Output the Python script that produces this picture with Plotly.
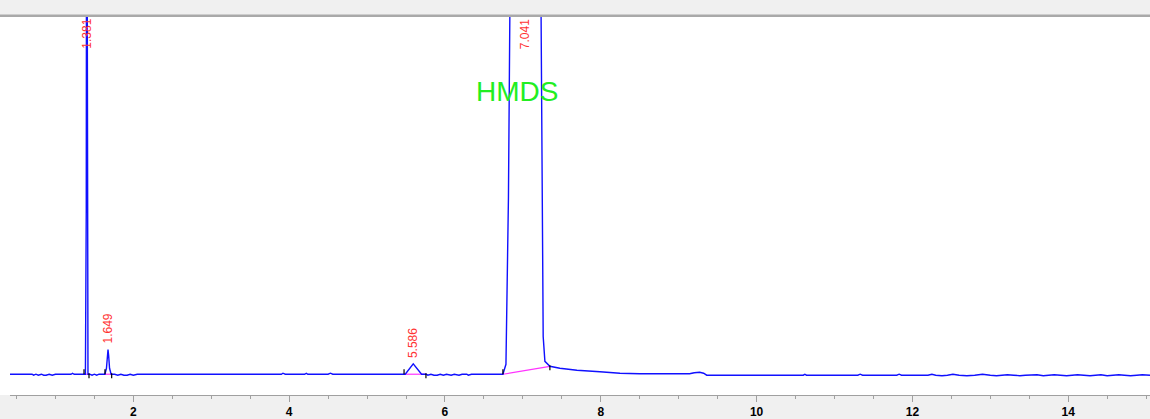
import plotly.graph_objects as go

# ---------------- data ----------------
# chromatogram trace (time in min, detector signal in arbitrary units)
time_min = [
    0.417, 0.70, 0.72, 0.75, 0.78, 0.82, 0.85, 0.88, 0.92, 0.96, 1.00, 1.20, 1.22, 1.24,
    1.385, 1.396, 1.401, 1.407, 1.418,
    1.44, 1.47, 1.50, 1.53, 1.56,
    1.635, 1.655, 1.667, 1.675, 1.683, 1.695, 1.715,
    1.76, 1.80, 1.84, 1.88, 1.92, 1.96, 2.00, 2.05,
    3.00, 3.90, 3.92, 3.95, 4.20, 4.22, 4.24, 4.50, 4.53, 4.56,
    5.49, 5.593, 5.70,
    5.76, 5.78, 5.82, 5.86, 5.90, 5.94, 5.98, 6.02, 6.08, 6.12, 6.18, 6.22, 6.28, 6.30, 6.34,
    6.744, 6.783, 6.815, 6.847, 6.87, 6.95, 7.041, 7.13, 7.21, 7.232, 7.245, 7.261, 7.283,
    7.305, 7.347, 7.475, 7.694, 7.989, 8.246, 8.50, 9.14, 9.20, 9.27, 9.32, 9.36,
    10.00, 10.60, 10.62, 10.64, 11.30, 11.33, 11.36, 11.80, 11.83, 11.86,
    12.20, 12.25, 12.30, 12.38, 12.45, 12.52, 12.60, 12.70, 12.80, 12.90, 13.00,
    13.08, 13.15, 13.22, 13.30, 13.38, 13.45, 13.52, 13.60, 13.68, 13.75, 13.82,
    13.90, 13.98, 14.05, 14.12, 14.20, 14.28, 14.35, 14.42, 14.50, 14.58, 14.65,
    14.72, 14.80, 14.88, 14.95, 15.05,
]
signal = [
    0, 0, -1, 0, -1, 0, -1, -1, 0, -1, 0, 0, 1, 0,
    0, 168, 700, 168, 0,
    0, -1, 0, -1, 0,
    0, 6, 19, 25, 19, 6, 0,
    0, -1, 0, -1, -1, 0, -1, 0,
    0, 0, 1, 0, 0, 1, 0, 0, 1, 0,
    0, 10.5, 0,
    0, -1, 0, -1, -1, 0, -1, 0, -1, 0, -1, 0, 0, -1, 0,
    0, 10, 178, 361, 650, 2000, 2500, 2000, 650, 361, 178, 38, 13,
    11, 8, 6, 4, 2.5, 1, 0.5, 0.5, 1.5, 2, 1, -1,
    -1, -1, 0, -1, -1, 0, -1, -1, 0, -1,
    -1, 0, -1, -1.5, -1, 0, -1, -1.5, -1, 0, -1,
    -1.5, -1, -0.5, -1, -1.5, -1, -1, -0.5, -1.5, -1, -0.5,
    -1, -1.5, -1, -0.5, -1, -1.5, -1, -0.5, -1.5, -1, -0.5,
    -1, -1.5, -1, -0.5, -1,
]

# integrated peaks
peak_labels = ["1.381", "1.649", "5.586", "7.041"]
peak_apex_time = [1.401, 1.675, 5.593, 7.03]
peak_apex_height = [700, 25, 10.5, 2500]
peak_start = [1.367, 1.636, 5.475, 6.744]
peak_end = [1.431, 1.722, 5.756, 7.347]
base_start = [0, 0, 0, 0]
base_end = [0, 0, 0, 8]

compound_name = "HMDS"
compound_time = 6.924
compound_height = 286

tick_values = [2, 4, 6, 8, 10, 12, 14]
tick_labels = ["2", "4", "6", "8", "10", "12", "14"]

X_RANGE = [0.417, 15.05]
Y_RANGE = [-21, 361]

# ---------------- figure ----------------
fig = go.Figure()

# integration baselines (magenta)
for s, e, bs, be in zip(peak_start, peak_end, base_start, base_end):
    fig.add_trace(go.Scatter(x=[s, e], y=[bs, be], mode="lines",
                             line=dict(color="#ff33ff", width=1.2),
                             hoverinfo="skip", showlegend=False))

# chromatogram
fig.add_trace(go.Scatter(x=time_min, y=signal, mode="lines",
                         line=dict(color="#1010ff", width=1.4),
                         showlegend=False))

# peak start / end tick markers
mx, my = [], []
for s, bs in zip(peak_start, base_start):
    mx += [s, s, None]
    my += [bs, bs + 5, None]
for e, be in zip(peak_end, base_end):
    mx += [e, e, None]
    my += [be - 4, be + 1, None]
fig.add_trace(go.Scatter(x=mx, y=my, mode="lines",
                         line=dict(color="black", width=1.2),
                         hoverinfo="skip", showlegend=False))

# retention time labels
for lab, t, h in zip(peak_labels, peak_apex_time, peak_apex_height):
    if h > Y_RANGE[1]:
        y, ya = Y_RANGE[1], "top"
    else:
        y, ya = h + 4, "bottom"
    fig.add_annotation(x=t, y=y, text=lab, textangle=-90, showarrow=False,
                       xanchor="center", yanchor=ya,
                       font=dict(family="Liberation Sans, Arial", size=12, color="#ff3333"))

fig.add_annotation(x=compound_time, y=compound_height, text=compound_name, showarrow=False,
                   xanchor="center", yanchor="middle",
                   font=dict(family="Liberation Sans, Arial", size=28, color="#22ee22"))

# decorations: white left strip, top separator
fig.add_shape(type="rect", xref="paper", yref="paper", x0=-0.02, x1=0, y0=0, y1=1,
              fillcolor="white", line=dict(width=0), layer="below")
fig.add_shape(type="rect", xref="paper", yref="paper", x0=-0.02, x1=1.02, y0=1.0, y1=1.0 + 2.5 / 382,
              fillcolor="#a9a9a9", line=dict(width=0))

fig.update_layout(
    width=1150, height=419,
    margin=dict(l=10, r=0, t=17, b=20),
    paper_bgcolor="#f0f0f0",
    plot_bgcolor="white",
    xaxis=dict(range=X_RANGE, showgrid=False, zeroline=False,
               showline=True, linecolor="#a0a0a0", linewidth=1,
               ticks="outside", ticklen=6, tickcolor="#a0a0a0", tickwidth=1,
               tickvals=tick_values, ticktext=tick_labels,
               tickfont=dict(family="Liberation Sans, Arial", size=12, color="black", weight="bold"),
               minor=dict(dtick=0.5, tick0=0, ticks="outside", ticklen=3,
                          tickcolor="#a0a0a0", tickwidth=1, showgrid=False)),
    yaxis=dict(range=Y_RANGE, visible=False, showgrid=False, zeroline=False),
)

fig.write_html("out.html", config={"displayModeBar": False},
               post_script="document.body.style.margin='0';document.body.style.padding='0';"
                           "document.body.style.overflow='hidden';")
